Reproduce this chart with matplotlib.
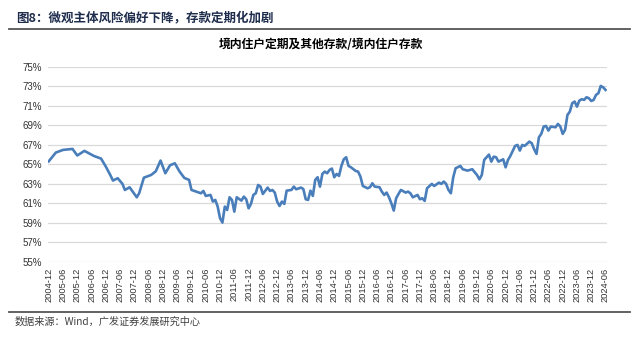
import numpy as np
import matplotlib
matplotlib.use("Agg")
import matplotlib.pyplot as plt
from matplotlib.ticker import FuncFormatter

plt.rcParams['font.family'] = ['Noto Sans CJK SC', 'DejaVu Sans']

# 境内住户定期及其他存款 / 境内住户存款 (%)
dates = [
    "2004-12", "2005-03", "2005-06", "2005-10", "2005-12", "2006-03", "2006-07", "2006-10",
    "2006-12", "2007-02", "2007-03", "2007-05", "2007-07", "2007-08", "2007-10", "2008-01",
    "2008-02", "2008-04", "2008-07", "2008-09", "2008-11", "2009-01", "2009-03", "2009-05",
    "2009-07", "2009-09", "2009-11", "2009-12", "2010-02", "2010-04", "2010-05", "2010-06",
    "2010-08", "2010-09", "2010-10", "2010-11", "2010-12", "2011-01", "2011-02", "2011-03",
    "2011-04", "2011-05", "2011-06", "2011-07", "2011-09", "2011-10", "2011-11", "2011-12",
    "2012-01", "2012-02", "2012-03", "2012-04", "2012-05", "2012-06", "2012-08", "2012-09",
    "2012-10", "2012-11", "2012-12", "2013-01", "2013-02", "2013-03", "2013-04", "2013-06",
    "2013-07", "2013-08", "2013-10", "2013-11", "2013-12", "2014-01", "2014-02", "2014-03",
    "2014-04", "2014-05", "2014-06", "2014-07", "2014-08", "2014-09", "2014-10", "2014-11",
    "2014-12", "2015-01", "2015-02", "2015-03", "2015-04", "2015-05", "2015-06", "2015-07",
    "2015-09", "2015-10", "2015-11", "2015-12", "2016-02", "2016-03", "2016-04", "2016-05",
    "2016-07", "2016-08", "2016-09", "2016-10", "2016-11", "2016-12", "2017-01", "2017-02",
    "2017-03", "2017-04", "2017-06", "2017-07", "2017-08", "2017-09", "2017-11", "2017-12",
    "2018-01", "2018-02", "2018-03", "2018-05", "2018-06", "2018-08", "2018-09", "2018-10",
    "2018-11", "2018-12", "2019-01", "2019-02", "2019-03", "2019-05", "2019-06", "2019-08",
    "2019-10", "2019-12", "2020-01", "2020-02", "2020-03", "2020-05", "2020-06", "2020-07",
    "2020-08", "2020-09", "2020-11", "2020-12", "2021-01", "2021-02", "2021-04", "2021-05",
    "2021-06", "2021-07", "2021-08", "2021-10", "2021-11", "2021-12", "2022-01", "2022-02",
    "2022-03", "2022-04", "2022-05", "2022-06", "2022-07", "2022-09", "2022-10", "2022-11",
    "2022-12", "2023-01", "2023-02", "2023-03", "2023-04", "2023-05", "2023-06", "2023-07",
    "2023-08", "2023-09", "2023-10", "2023-11", "2023-12", "2024-01", "2024-02", "2024-03",
    "2024-04", "2024-05", "2024-06",
]
ratio = [
    65.30, 66.20, 66.47, 66.57, 65.90, 66.37, 65.85, 65.58,
    64.76, 63.84, 63.33, 63.57, 62.99, 62.37, 62.64, 61.62,
    62.03, 63.63, 63.90, 64.28, 65.38, 64.08, 64.90, 65.10,
    64.25, 63.60, 63.40, 62.37, 62.20, 62.03, 62.27, 61.76,
    61.86, 61.18, 61.35, 60.67, 59.47, 59.03, 60.67, 60.32,
    61.62, 61.35, 60.15, 61.62, 61.28, 61.69, 61.42, 60.49,
    60.94, 61.86, 62.03, 62.88, 62.71, 61.96, 62.61, 62.27,
    62.37, 62.10, 61.18, 60.73, 61.18, 60.94, 62.30, 62.37,
    62.71, 62.44, 62.61, 62.47, 61.42, 61.35, 62.30, 61.76,
    63.40, 63.67, 62.71, 64.01, 64.25, 64.08, 64.42, 64.56,
    63.67, 64.01, 63.81, 64.83, 65.51, 65.72, 64.83, 64.69,
    64.32, 64.25, 63.74, 62.78, 62.54, 62.65, 63.05, 62.71,
    62.65, 62.20, 61.86, 62.10, 61.62, 61.01, 60.26, 61.52,
    61.96, 62.37, 62.10, 62.20, 62.03, 61.62, 61.86, 61.42,
    61.52, 61.25, 62.54, 62.99, 62.78, 63.12, 62.99, 63.23,
    62.99, 62.37, 62.03, 63.67, 64.59, 64.83, 64.49, 64.35,
    64.49, 63.90, 63.46, 63.90, 65.44, 65.99, 65.27, 65.78,
    65.72, 65.27, 65.51, 64.69, 65.44, 65.85, 66.88, 66.98,
    66.40, 66.98, 66.88, 67.32, 67.15, 66.54, 66.06, 67.76,
    68.11, 68.86, 68.92, 68.45, 68.86, 68.79, 69.13, 68.86,
    68.11, 68.52, 70.05, 70.39, 71.25, 71.42, 70.90, 71.52,
    71.66, 71.59, 71.86, 71.76, 71.48, 71.59, 72.10, 72.27,
    73.02, 72.88, 72.61,
]
tick_labels = [f"{y}-{m}" for y in range(2004, 2025) for m in ("06", "12")][1:-1]
y_ticks = list(range(55, 76, 2))

def month_index(d):
    y, m = map(int, d.split("-"))
    return (y - 2004) * 12 + m - 12

x = np.array([month_index(d) for d in dates])
tick_pos = [month_index(t) for t in tick_labels]

fig = plt.figure(figsize=(6.4, 3.38), dpi=100)
ax = fig.add_axes([0.075, 0.225, 0.873, 0.578])

ax.plot(x, ratio, color="#4A7EBB", lw=1.9, solid_joinstyle="round")

ax.set_ylim(55, 75)
ax.set_yticks(y_ticks)
ax.yaxis.set_major_formatter(FuncFormatter(lambda v, p: f"{v:.0f}%"))
ax.set_xlim(-0.3, 234.5)
ax.set_xticks(tick_pos)
ax.set_xticklabels(tick_labels, rotation=90, fontsize=6.7, family="Liberation Sans", color="#333333")
for lab in ax.get_yticklabels():
    lab.set_family("Liberation Sans")
    lab.set_fontsize(7)
    lab.set_color("#333333")
ax.tick_params(length=0, pad=4)
ax.grid(axis="y", color="#D9D9D9", lw=0.9)
ax.set_axisbelow(True)
for s in ax.spines.values():
    s.set_visible(False)

fig.text(16 / 640, 1 - 18 / 338, "图8：微观主体风险偏好下降，存款定期化加剧",
         fontsize=9, fontweight="bold", color="#1F2D4D", va="center", ha="left")
fig.add_artist(plt.Line2D([9 / 640, 630 / 640], [1 - 29 / 338] * 2, color="#555555", lw=1.3))
fig.text(321 / 640, 1 - 45 / 338, "境内住户定期及其他存款/境内住户存款",
         fontsize=8.5, fontweight="bold", color="black", va="center", ha="center")
fig.add_artist(plt.Line2D([9 / 640, 630 / 640], [1 - 312 / 338] * 2, color="#555555", lw=1.3))
fig.text(15 / 640, 1 - 322 / 338, "数据来源：Wind，广发证券发展研究中心",
         fontsize=7.3, color="#404040", va="center", ha="left")

fig.savefig("out.png", dpi=100)
